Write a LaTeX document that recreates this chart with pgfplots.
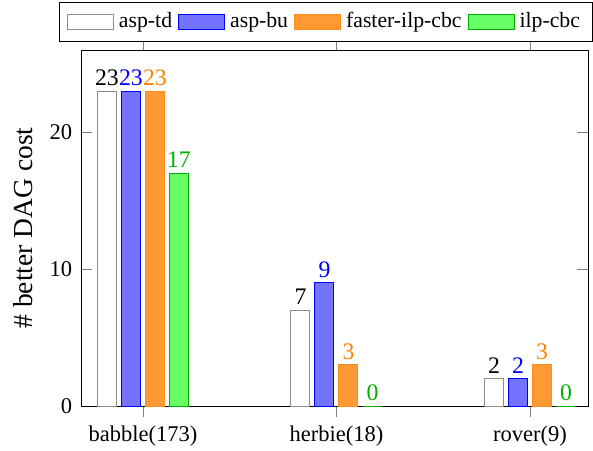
\documentclass[border=0pt]{standalone}
\usepackage{pgfplots}
\pgfplotsset{compat=1.18}
\usepackage{fontspec}
\setmainfont{Liberation Serif}
\definecolor{gbar}{rgb}{0,0.7,0}
\begin{document}
\begin{tikzpicture}
\begin{axis}[
  name=ax,
  scale only axis,
  width=202.8pt, height=142.4pt,
  ybar=2pt, bar width=7.6pt,
  xmin=-0.32, xmax=2.30,
  ymin=0, ymax=26,
  xtick={0,1,2},
  xticklabels={babble(173),herbie(18),rover(9)},
  xtick align=outside,
  ytick={0,10,20},
  /pgf/number format/assume math mode=true,
  tick label style={font=\fontsize{9}{10}\selectfont},
  ylabel={\# better DAG cost},
  ylabel style={font=\fontsize{11}{13}\selectfont},
  legend columns=4,
  legend style={at={(1,1)}, anchor=south east, xshift=2pt, yshift=3.2pt,
    font=\fontsize{8.7}{10}\selectfont, draw=black, inner xsep=3pt, inner ysep=2.5pt,
    nodes={inner xsep=2pt, inner ysep=1.5pt},
    /tikz/every odd column/.append style={column sep=0pt},
    /tikz/every even column/.append style={column sep=0.4pt}},
  legend image code/.code={\draw[#1] (0pt,-3pt) rectangle (18.4pt,3pt);},
  nodes near coords,
  every node near coord/.append style={font=\fontsize{9.5}{11}\selectfont, inner sep=2pt},
]
\addplot[draw=black!45, fill=white, every node near coord/.append style={text=black}]
  coordinates {(0,23) (1,7) (2,2)};
\addplot[draw=blue, fill=blue!55, every node near coord/.append style={text=blue}]
  coordinates {(0,23) (1,9) (2,2)};
\addplot[draw=orange!90, fill=orange!80, every node near coord/.append style={text=orange}]
  coordinates {(0,23) (1,3) (2,3)};
\addplot[draw=gbar, fill=green!60, every node near coord/.append style={text=gbar}]
  coordinates {(0,17) (1,0) (2,0)};
\legend{asp-td,asp-bu,faster-ilp-cbc,ilp-cbc}
\end{axis}
\pgfresetboundingbox
\useasboundingbox ([shift={(-32.4pt,-17.6pt)}]ax.south west) rectangle ([shift={(2pt,20pt)}]ax.north east);
\end{tikzpicture}
\end{document}
